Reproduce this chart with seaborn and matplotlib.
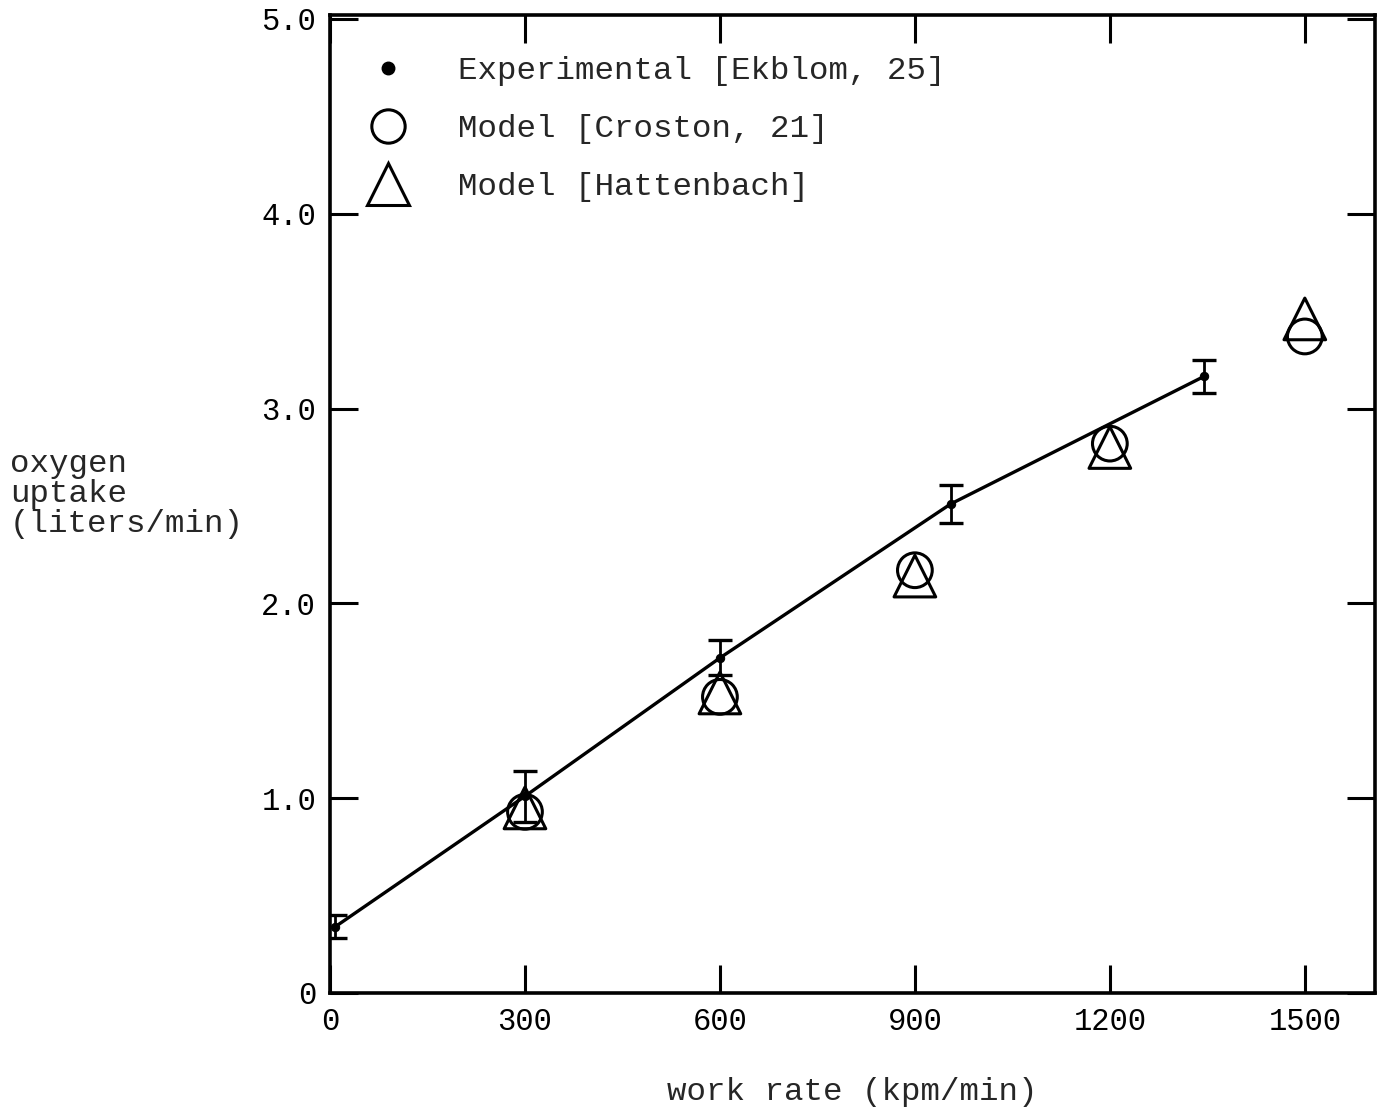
import numpy as np
import pandas as pd
import matplotlib
matplotlib.use("Agg")
import matplotlib.pyplot as plt
import seaborn as sns
from matplotlib.lines import Line2D

# Measured oxygen uptake with spread
work_exp = [8, 300, 600, 955, 1345]
o2_exp = [0.34, 1.01, 1.72, 2.51, 3.165]
o2_err = [0.06, 0.13, 0.09, 0.10, 0.085]

# Model predictions
work_model = [300, 600, 900, 1200, 1500]
o2_croston = [0.93, 1.52, 2.17, 2.82, 3.37]
o2_hattenbach = [0.95, 1.54, 2.14, 2.80, 3.46]

x_ticks = [0, 300, 600, 900, 1200, 1500]
x_tick_labels = ["0", "300", "600", "900", "1200", "1500"]
y_ticks = [0, 1, 2, 3, 4, 5]
y_tick_labels = ["0", "1.0", "2.0", "3.0", "4.0", "5.0"]

legend_labels = ["Experimental [Ekblom, 25]", "Model [Croston, 21]", "Model [Hattenbach]"]

sns.set_theme(style="white")
plt.rcParams["font.family"] = ["Liberation Mono", "DejaVu Sans Mono"]
FS_TICK = 22
FS_TEXT = 23.4

exp_df = pd.DataFrame({"work": work_exp, "o2": o2_exp})
model_df = pd.DataFrame({"work": work_model, "croston": o2_croston, "hattenbach": o2_hattenbach})

fig = plt.figure(figsize=(13.78, 11.10), dpi=100)
ax = fig.add_axes([330 / 1378, 1 - 993 / 1110, 1045 / 1378, 978 / 1110])

sns.lineplot(data=exp_df, x="work", y="o2", ax=ax, color="black", linewidth=2.4,
             marker="o", markersize=6, markeredgecolor="black", zorder=3)
ax.errorbar(work_exp, o2_exp, yerr=o2_err, fmt="none", ecolor="black",
            elinewidth=2.0, capsize=8.5, capthick=2.4, zorder=4)

sns.scatterplot(data=model_df, x="work", y="croston", ax=ax, marker="o", s=25 ** 2,
                facecolor="none", edgecolor="black", linewidth=2.2, zorder=2)
sns.scatterplot(data=model_df, x="work", y="hattenbach", ax=ax, marker="^", s=30 ** 2,
                facecolor="none", edgecolor="black", linewidth=2.2, zorder=2)

ax.set_xlim(0, 1608)
ax.set_ylim(0, 5.02)
ax.set_xticks(x_ticks)
ax.set_xticklabels(x_tick_labels)
ax.set_yticks(y_ticks)
ax.set_yticklabels(y_tick_labels)
ax.set_xlabel("")
ax.set_ylabel("")
ax.tick_params(axis="both", which="major", direction="in", length=20, width=2.2,
               color="black", labelsize=FS_TICK, labelcolor="black",
               top=True, right=True, bottom=True, left=True)
ax.tick_params(axis="x", pad=10)
ax.tick_params(axis="y", pad=10)
for sp in ax.spines.values():
    sp.set_visible(True)
    sp.set_color("black")
    sp.set_linewidth(2.6)

handles = [
    Line2D([], [], linestyle="none", marker="o", markersize=9, color="black"),
    Line2D([], [], linestyle="none", marker="o", markersize=24, markerfacecolor="none",
           markeredgecolor="black", markeredgewidth=2.2),
    Line2D([], [], linestyle="none", marker="^", markersize=30, markerfacecolor="none",
           markeredgecolor="black", markeredgewidth=2.2),
]
ax.legend(handles, legend_labels, loc="upper left", bbox_to_anchor=(0.0325, 0.958),
          frameon=False, fontsize=FS_TEXT, handlelength=1.45, handletextpad=1.45,
          labelspacing=0.86, borderpad=0, borderaxespad=0)

fig.text(10 / 1378, 1 - 494 / 1110, "oxygen\nuptake\n(liters/min)", ha="left", va="center",
         fontsize=FS_TEXT, linespacing=0.98)
fig.text(852 / 1378, 1 - 1092 / 1110, "work rate (kpm/min)", ha="center", va="center",
         fontsize=FS_TEXT)

fig.savefig("out.png", dpi=100, facecolor="white")
